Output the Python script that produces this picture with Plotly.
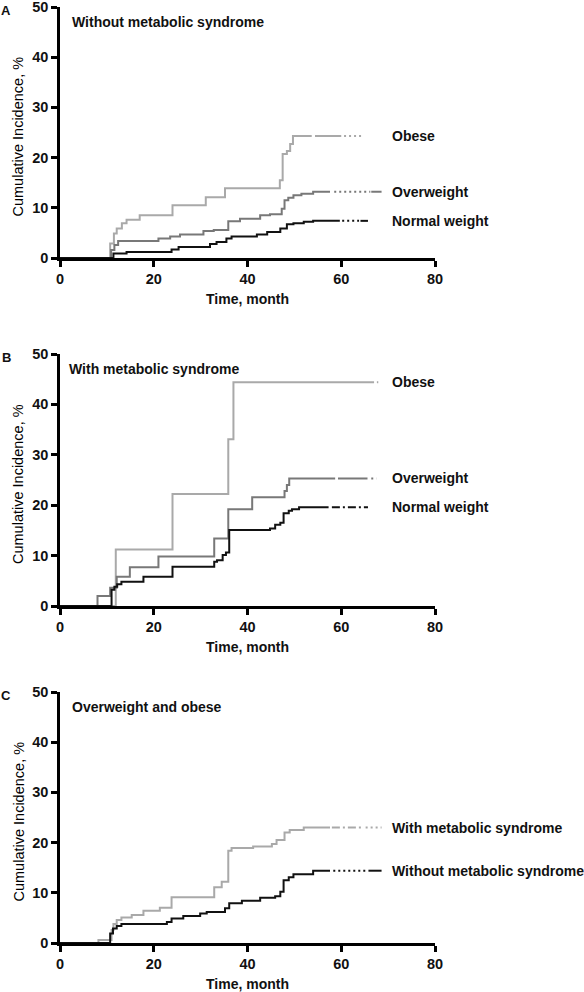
import plotly.graph_objects as go

# ---------------- data (time in months, cumulative incidence in %) ----------------
# Panel A: without metabolic syndrome
A_obese_t = [0, 10.7, 11.5, 12.1, 13.2, 14.2, 17.0, 24.0, 31.1, 35.2, 46.9, 47.5, 48.4, 49.1, 49.7, 64.6]
A_obese_v = [0, 2.9, 4.9, 5.9, 6.9, 7.6, 8.5, 10.5, 12.1, 13.9, 15.5, 20.7, 21.3, 22.7, 24.3, 24.3]
A_over_t = [0, 10.9, 11.6, 12.4, 21.0, 23.5, 25.6, 30.6, 32.8, 35.9, 38.4, 42.7, 44.8, 47.3, 47.9, 48.7, 49.8, 51.5, 54.0, 68.6]
A_over_v = [0, 1.6, 2.6, 3.4, 3.9, 4.3, 4.7, 5.4, 5.6, 7.3, 7.8, 8.5, 8.7, 9.8, 11.5, 12.0, 12.5, 12.8, 13.2, 13.2]
A_norm_t = [0, 11.4, 14.2, 23.8, 25.3, 32.0, 33.4, 35.5, 36.6, 42.0, 44.2, 47.0, 48.4, 49.8, 52.0, 54.0, 65.7]
A_norm_v = [0, 0.9, 1.2, 1.7, 2.2, 2.8, 3.2, 3.9, 4.3, 4.7, 5.2, 5.9, 6.7, 6.9, 7.2, 7.4, 7.4]

# Panel B: with metabolic syndrome
B_obese_t = [0, 11.9, 24.0, 35.9, 37.0, 67.9]
B_obese_v = [0, 11.2, 22.2, 33.1, 44.4, 44.4]
B_over_t = [0, 8.0, 10.7, 12.1, 14.9, 21.0, 32.9, 35.9, 41.0, 47.9, 48.4, 48.9, 67.5]
B_over_v = [0, 2.0, 3.6, 5.8, 7.7, 9.8, 13.4, 19.2, 21.6, 22.8, 24.0, 25.3, 25.3]
B_norm_t = [0, 11.0, 11.6, 12.2, 13.1, 17.8, 24.0, 32.9, 33.5, 34.7, 35.4, 36.1, 44.8, 45.9, 47.0, 47.7, 48.8, 49.5, 51.0, 65.7]
B_norm_v = [0, 3.2, 3.8, 4.3, 4.8, 5.8, 7.8, 8.8, 9.1, 10.1, 10.6, 15.1, 15.4, 16.1, 16.5, 18.4, 18.9, 19.2, 19.6, 19.6]

# Panel C: overweight and obese
C_with_t = [0, 8.2, 11.0, 11.4, 12.1, 13.1, 15.3, 17.8, 21.3, 23.8, 32.9, 34.5, 35.9, 36.6, 41.2, 45.2, 46.2, 47.9, 49.0, 52.0, 68.6]
C_with_v = [0, 0.6, 2.6, 3.8, 4.6, 5.1, 5.6, 6.4, 7.0, 9.1, 11.1, 12.2, 18.4, 18.9, 19.2, 19.7, 20.5, 22.0, 22.5, 23.0, 23.0]
C_without_t = [0, 10.7, 11.3, 12.1, 13.1, 22.8, 23.8, 26.3, 29.9, 31.3, 35.2, 36.1, 38.8, 42.7, 45.9, 47.0, 47.7, 48.8, 49.8, 54.0, 68.6]
C_without_v = [0, 1.9, 2.9, 3.4, 3.8, 4.2, 4.9, 5.4, 5.9, 6.2, 6.9, 7.9, 8.4, 9.0, 9.3, 10.2, 12.5, 13.1, 13.7, 14.4, 14.4]

panel_letters = ["A", "B", "C"]
panel_titles = ["Without metabolic syndrome", "With metabolic syndrome", "Overweight and obese"]
x_ticks = [0, 20, 40, 60, 80]
y_ticks = [0, 10, 20, 30, 40, 50]
x_title = "Time, month"
y_title = "Cumulative Incidence, %"

# ---------------- styles ----------------
LIGHT = "#a9a9a9"
MID = "#787878"
DARK = "#111111"
DOTS = "2px,3px"
DASHDOT = "8px,3px,2px,3px"
FONT = "Liberation Sans, Arial, sans-serif"

# each series: (t, v, label, color, solid_end, tail segments (start, end, dash))
panels = [
    [
        (A_obese_t, A_obese_v, "Obese", LIGHT, 53.7, [(54.4, 60.0, "solid"), (60.6, 64.6, DOTS)]),
        (A_over_t, A_over_v, "Overweight", MID, 57.6, [(58.5, 66.2, DOTS), (66.4, 68.6, "solid")]),
        (A_norm_t, A_norm_v, "Normal weight", DARK, 59.7, [(60.2, 63.8, DOTS), (64.1, 65.7, "solid")]),
    ],
    [
        (B_obese_t, B_obese_v, "Obese", LIGHT, 67.0, [(67.6, 67.9, "solid")]),
        (B_over_t, B_over_v, "Overweight", MID, 58.7, [(59.3, 65.6, "solid"), (66.4, 67.5, DOTS)]),
        (B_norm_t, B_norm_v, "Normal weight", DARK, 57.3, [(58.0, 65.7, DASHDOT)]),
    ],
    [
        (C_with_t, C_with_v, "With metabolic syndrome", LIGHT, 57.6, [(58.0, 64.7, DASHDOT), (65.2, 68.6, DOTS)]),
        (C_without_t, C_without_v, "Without metabolic syndrome", DARK, 57.6, [(58.3, 65.4, DOTS), (65.8, 68.6, "solid")]),
    ],
]

W, H = 584, 992
x_dom = [60 / W, 435 / W]
# pixel rows (top, bottom) of each panel's plot area
rows_px = [(7, 258), (354, 606), (692, 943)]
label_x = 70.4

fig = go.Figure()
annotations = []

for i, (series, (top, bot)) in enumerate(zip(panels, rows_px)):
    sfx = "" if i == 0 else str(i + 1)
    xa, ya = "x" + sfx, "y" + sfx
    y_dom = [1 - bot / H, 1 - top / H]

    for t, v, label, color, solid_end, tail in series:
        st = [tt for tt in t if tt <= solid_end]
        sv = v[: len(st)]
        st = st + [solid_end]
        sv = sv + [sv[-1]]
        fig.add_trace(go.Scatter(x=st, y=sv, mode="lines", line=dict(color=color, width=2, shape="hv"),
                                 xaxis=xa, yaxis=ya, showlegend=False, hoverinfo="skip"))
        for a, b, dash in tail:
            fig.add_trace(go.Scatter(x=[a, b], y=[v[-1], v[-1]], mode="lines",
                                     line=dict(color=color, width=2, dash=dash),
                                     xaxis=xa, yaxis=ya, showlegend=False, hoverinfo="skip"))
        annotations.append(dict(x=label_x, y=v[-1], xref=xa, yref=ya, text=label, showarrow=False,
                                xanchor="left", yanchor="middle",
                                font=dict(family=FONT, size=14, color="#111", weight="bold")))

    axis_common = dict(showline=True, linecolor="black", linewidth=2.5, ticks="outside", ticklen=6,
                       tickwidth=2.5, tickcolor="black", showgrid=False, zeroline=False,
                       tickfont=dict(family=FONT, size=14.5, color="#111", weight="bold"),
                       layer="below traces", automargin=False, ticklabeloverflow="allow")
    fig.update_layout(**{
        "xaxis" + sfx: dict(domain=x_dom, anchor=ya, range=[0, 80], tickvals=x_ticks, **axis_common),
        "yaxis" + sfx: dict(domain=y_dom, anchor=xa, range=[0, 50], tickvals=y_ticks, **axis_common),
    })

    # panel letter
    annotations.append(dict(x=6 / W, y=1 - (top + 3) / H, xref="paper", yref="paper", text=panel_letters[i],
                            showarrow=False, xanchor="center", yanchor="middle",
                            font=dict(family=FONT, size=13, color="#111", weight="bold")))
    # panel title
    annotations.append(dict(x=(70 if i != 1 else 67) / W, y=1 - (top + 15) / H, xref="paper", yref="paper",
                            text=panel_titles[i], showarrow=False, xanchor="left", yanchor="middle",
                            font=dict(family=FONT, size=14, color="#111", weight="bold")))
    # axis titles
    annotations.append(dict(x=40, y=1 - (bot + 41) / H, xref=xa, yref="paper", text=x_title,
                            showarrow=False, xanchor="center", yanchor="middle",
                            font=dict(family=FONT, size=14, color="#111", weight="bold")))
    annotations.append(dict(x=18 / W, y=1 - ((top + bot) / 2 + 4) / H, xref="paper", yref="paper",
                            text=y_title, textangle=-90, showarrow=False, xanchor="center", yanchor="middle",
                            font=dict(family=FONT, size=14.5, color="#000")))

fig.update_layout(width=W, height=H, margin=dict(l=0, r=0, t=0, b=0, autoexpand=False),
                  paper_bgcolor="white", plot_bgcolor="white", annotations=annotations)

fig.write_html("out.html", config={"displayModeBar": False},
               post_script="document.body.style.margin='0';document.body.style.overflow='hidden';")
